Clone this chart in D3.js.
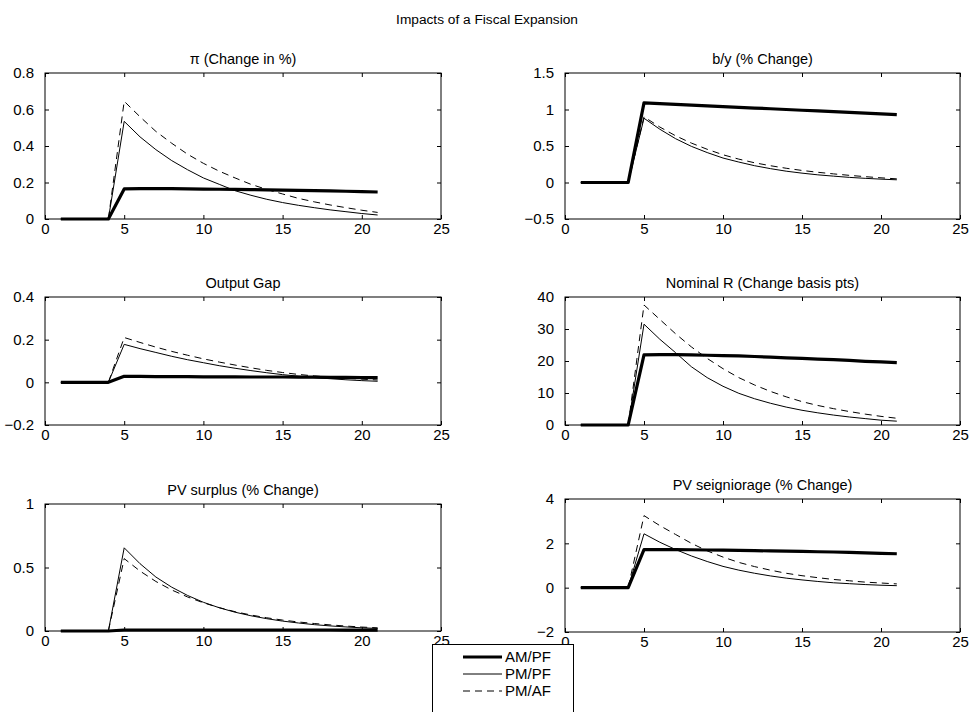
<!DOCTYPE html>
<html>
<head>
<meta charset="utf-8">
<script src="https://cdn.jsdelivr.net/npm/d3@7"></script>
<style>
html,body{margin:0;padding:0;background:#fff;}
svg{display:block;font-family:"Liberation Sans",Arial,Helvetica,sans-serif;}
</style>
</head>
<body>
<svg id="chart" width="972" height="712"></svg>
<script>
const mainTitle = "Impacts of a Fiscal Expansion";
const periods = d3.range(1, 22);
const seriesNames = ["AM/PF", "PM/PF", "PM/AF"];
const xTicks = [0, 5, 10, 15, 20, 25];

// Inflation
const piAMPF = [0,0,0,0,0.165,0.166,0.167,0.166,0.165,0.164,0.163,0.162,0.161,0.160,0.158,0.157,0.155,0.154,0.152,0.150,0.148];
const piPMPF = [0,0,0,0,0.535,0.45,0.38,0.32,0.27,0.225,0.19,0.155,0.13,0.108,0.09,0.075,0.062,0.05,0.04,0.03,0.022];
const piPMAF = [0,0,0,0,0.645,0.56,0.48,0.415,0.355,0.305,0.262,0.225,0.19,0.162,0.137,0.113,0.094,0.077,0.062,0.048,0.036];
const piTicks = [0, 0.2, 0.4, 0.6, 0.8];

// Debt / output
const byAMPF = [0,0,0,0,1.09,1.08,1.07,1.06,1.05,1.04,1.03,1.02,1.01,1.00,0.99,0.98,0.97,0.96,0.95,0.94,0.93];
const byPMPF = [0,0,0,0,0.88,0.73,0.60,0.495,0.41,0.335,0.28,0.23,0.19,0.155,0.128,0.105,0.087,0.07,0.057,0.046,0.037];
const byPMAF = [0,0,0,0,0.90,0.76,0.64,0.54,0.455,0.38,0.32,0.27,0.23,0.195,0.165,0.14,0.118,0.098,0.08,0.064,0.05];
const byTicks = [-0.5, 0, 0.5, 1, 1.5];

// Output gap
const ogAMPF = [0,0,0,0,0.028,0.028,0.027,0.027,0.027,0.026,0.026,0.026,0.025,0.025,0.025,0.024,0.024,0.023,0.023,0.022,0.022];
const ogPMPF = [0,0,0,0,0.178,0.158,0.14,0.122,0.106,0.092,0.078,0.066,0.055,0.045,0.036,0.029,0.022,0.017,0.012,0.008,0.005];
const ogPMAF = [0,0,0,0,0.21,0.187,0.165,0.145,0.127,0.11,0.095,0.081,0.068,0.056,0.046,0.037,0.03,0.024,0.019,0.015,0.011];
const ogTicks = [-0.2, 0, 0.2, 0.4];

// Nominal rate
const rAMPF = [0,0,0,0,21.9,22.0,22.0,21.9,21.8,21.7,21.6,21.4,21.2,21.0,20.8,20.6,20.4,20.2,19.9,19.7,19.5];
const rPMPF = [0,0,0,0,31.5,26.8,22.6,18.2,14.8,12.1,9.9,8.2,6.8,5.6,4.6,3.8,3.1,2.5,2.0,1.5,1.2];
const rPMAF = [0,0,0,0,37.5,33.0,28.5,24.4,20.8,17.6,14.8,12.5,10.5,8.8,7.3,6.1,5.1,4.2,3.4,2.7,2.1];
const rTicks = [0, 10, 20, 30, 40];

// PV surplus
const psAMPF = [0,0,0,0,0.008,0.008,0.008,0.008,0.008,0.008,0.008,0.008,0.008,0.008,0.008,0.008,0.008,0.008,0.007,0.007,0.007];
const psPMPF = [0,0,0,0,0.655,0.53,0.425,0.345,0.28,0.226,0.183,0.148,0.12,0.097,0.078,0.063,0.05,0.04,0.032,0.025,0.02];
const psPMAF = [0,0,0,0,0.57,0.472,0.39,0.323,0.268,0.222,0.184,0.152,0.126,0.104,0.086,0.071,0.059,0.048,0.039,0.031,0.025];
const psTicks = [0, 0.5, 1];

// PV seigniorage
const sgAMPF = [0,0,0,0,1.72,1.72,1.72,1.71,1.70,1.69,1.68,1.67,1.66,1.65,1.64,1.62,1.61,1.59,1.57,1.55,1.53];
const sgPMPF = [0,0,0,0,2.43,2.05,1.72,1.43,1.18,0.96,0.79,0.65,0.53,0.43,0.35,0.28,0.22,0.18,0.14,0.11,0.09];
const sgPMAF = [0,0,0,0,3.25,2.8,2.4,2.0,1.66,1.38,1.14,0.95,0.79,0.65,0.54,0.45,0.37,0.31,0.25,0.21,0.17];
const sgTicks = [-2, 0, 2, 4];

const panels = [
  {title:"\u03c0 (Change in %)", series:[piAMPF,piPMPF,piPMAF], ticks:piTicks, box:[45,73,441,219]},
  {title:"b/y (% Change)", series:[byAMPF,byPMPF,byPMAF], ticks:byTicks, box:[565,73,960,219]},
  {title:"Output Gap", series:[ogAMPF,ogPMPF,ogPMAF], ticks:ogTicks, box:[45,297,441,425]},
  {title:"Nominal R (Change basis pts)", series:[rAMPF,rPMPF,rPMAF], ticks:rTicks, box:[565,297,960,425]},
  {title:"PV surplus (% Change)", series:[psAMPF,psPMPF,psPMAF], ticks:psTicks, box:[45,504,441,631]},
  {title:"PV seigniorage (% Change)", series:[sgAMPF,sgPMPF,sgPMAF], ticks:sgTicks, box:[565,499,960,632]}
];

const styles = [
  {w:3.2, dash:null},
  {w:1, dash:null},
  {w:1, dash:"7,5"}
];

const svg = d3.select("#chart");
const fmt = v => String(v).replace("-", "\u2212");
const tickFont = 15;

svg.append("text").attr("x", 487).attr("y", 24).attr("text-anchor","middle")
  .attr("font-size", 13.7).text(mainTitle);

panels.forEach(p => {
  const [x0,y0,x1,y1] = p.box;
  const x = d3.scaleLinear().domain([0,25]).range([x0,x1]);
  const y = d3.scaleLinear().domain([p.ticks[0], p.ticks[p.ticks.length-1]]).range([y1,y0]);
  const g = svg.append("g");
  g.append("rect").attr("x",x0).attr("y",y0).attr("width",x1-x0).attr("height",y1-y0)
    .attr("fill","#fff");
  p.series.forEach((s,i) => {
    const line = d3.line().x((d,j)=>x(periods[j])).y(d=>y(d));
    g.append("path").attr("d", line(s)).attr("fill","none").attr("stroke","#000")
      .attr("stroke-width", styles[i].w).attr("stroke-dasharray", styles[i].dash)
      .attr("stroke-linejoin","round");
  });
  const tl = 4;
  const axB = d3.axisBottom(x).tickValues(xTicks).tickSize(-tl).tickPadding(4).tickFormat(fmt);
  const axT = d3.axisTop(x).tickValues(xTicks).tickSize(-tl).tickFormat("");
  const axL = d3.axisLeft(y).tickValues(p.ticks).tickSize(-tl).tickPadding(11).tickFormat(fmt);
  const axR = d3.axisRight(y).tickValues(p.ticks).tickSize(-tl).tickFormat("");
  const gb = g.append("g").attr("transform",`translate(0,${y1})`).call(axB);
  const gt = g.append("g").attr("transform",`translate(0,${y0})`).call(axT);
  const gl = g.append("g").attr("transform",`translate(${x0},0)`).call(axL);
  const gr = g.append("g").attr("transform",`translate(${x1},0)`).call(axR);
  [gb,gt,gl,gr].forEach(a => {
    a.select(".domain").remove();
    a.selectAll("line").attr("stroke","#000");
    a.selectAll("text").attr("fill","#000").attr("font-size",tickFont)
      .attr("font-family","Liberation Sans, Arial, sans-serif");
  });
  g.append("rect").attr("x",x0).attr("y",y0).attr("width",x1-x0).attr("height",y1-y0)
    .attr("fill","none").attr("stroke","#000").attr("stroke-width",1);
  g.append("text").attr("x",(x0+x1)/2).attr("y",y0-9).attr("text-anchor","middle")
    .attr("font-size",14.5).text(p.title);
});

// legend
const leg = svg.append("g");
leg.append("rect").attr("x",432.5).attr("y",644.5).attr("width",141).attr("height",80)
  .attr("fill","#fff").attr("stroke","#000").attr("stroke-width",1);
const legRows = [657, 674, 691];
seriesNames.forEach((n,i) => {
  leg.append("line").attr("x1",463).attr("x2",502).attr("y1",legRows[i]).attr("y2",legRows[i])
    .attr("stroke","#000").attr("stroke-width",styles[i].w).attr("stroke-dasharray",styles[i].dash);
  leg.append("text").attr("x",505).attr("y",legRows[i]+5).attr("font-size",15).text(n);
});
</script>
</body>
</html>
